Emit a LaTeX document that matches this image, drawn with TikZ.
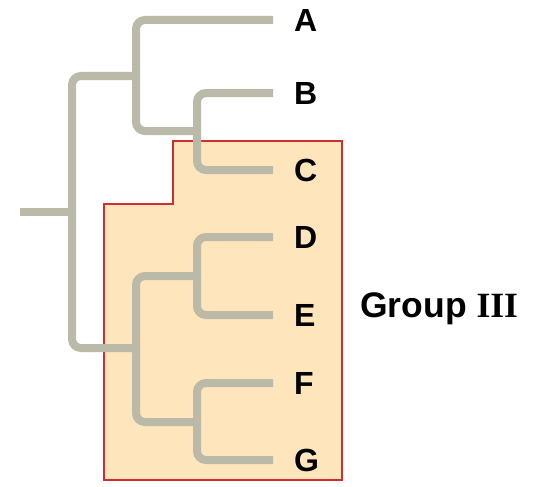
\documentclass[tikz,border=0pt]{standalone}
\usepackage{fontspec}
\setmainfont{Liberation Sans}
\newfontfamily\serifbf{Liberation Serif}
\usetikzlibrary{calc}
\definecolor{branchgray}{RGB}{187,185,168}
\definecolor{groupfill}{RGB}{254,229,188}
\definecolor{groupred}{RGB}{206,45,50}

\begin{document}
\begin{tikzpicture}[x=1pt,y=-1pt,
    branch/.style={draw=branchgray,line width=8pt,rounded corners=9pt},
    taxon/.style={anchor=base west,inner sep=0pt,font=\fontsize{32}{38}\selectfont\bfseries}]
           \useasboundingbox (0,0) rectangle (546,487);
           % group III box
           \draw[draw=groupred,fill=groupfill,line width=2pt] (173,141) -- (342,141) -- (342,480) -- (104,480) -- (104,204) -- (173,204) -- cycle;
           % tips and labels
           \foreach \name/\y in {A/20,B/93,C/170,D/237,E/315,F/383,G/460} {
              \coordinate (t\name) at (273,\y);
              \node[taxon] (\name) at (294,\y+11.5) {\name};
           }
           % internal nodes
           \coordinate (bc) at (197,131);
           \coordinate (abc) at (136,76);
           \coordinate (de) at (197,276);
           \coordinate (fg) at (197,422);
           \coordinate (defg) at (136,348);
           \coordinate (root) at (72,212);
           \coordinate (stem) at (20,212);
           \draw[branch] (tB) -| (bc) |- (tC);
           \draw[branch] (tA) -| (abc) |- (bc);
           \draw[branch] (tD) -| (de) |- (tE);
           \draw[branch] (tF) -| (fg) |- (tG);
           \draw[branch] (de) -| (defg) |- (fg);
           \draw[branch] (abc) -| (root) |- (defg);
           \draw[branch] (stem) -- (root);
           \node[anchor=base west,inner sep=0pt,font=\fontsize{35.5}{42}\selectfont\bfseries] (group) at (360,317) {Group {\serifbf III}};
        \end{tikzpicture}
\end{document}
